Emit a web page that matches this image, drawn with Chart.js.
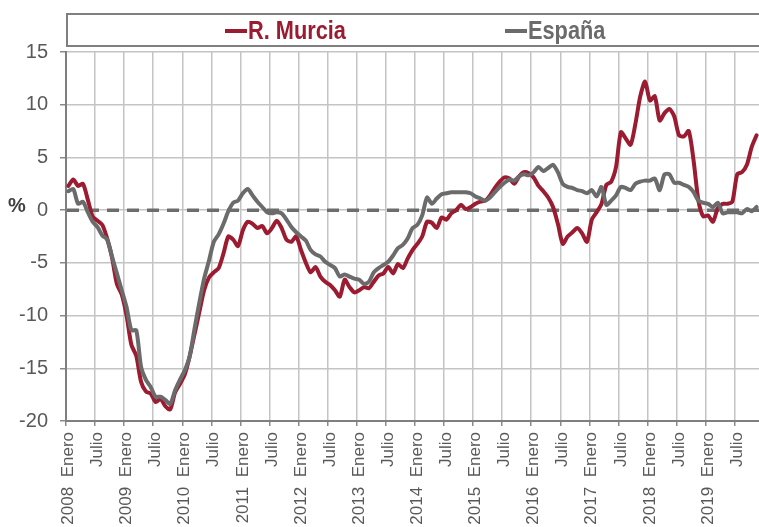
<!DOCTYPE html>
<html>
<head>
<meta charset="utf-8">
<script src="https://cdn.jsdelivr.net/npm/chart.js@4/dist/chart.umd.min.js"></script>
<style>
  html, body { margin: 0; padding: 0; background: #fff; overflow: hidden; }
  #wrap { position: relative; width: 759px; height: 527px; }
  #chart { position: absolute; left: 0; top: 0; }
  #legend {
    position: absolute; left: 66px; top: 13px; width: 720px; height: 30px;
    border: 2px solid #7f7f7f; box-sizing: content-box;
  }
  .item {
    position: absolute; top: 0; height: 30px; line-height: 30px;
    font-family: "Liberation Sans Narrow", "Arial Narrow", "Liberation Sans", Arial, sans-serif;
    font-weight: bold; font-size: 25px; white-space: nowrap;
  }
  .item span.mark { display: inline-block; width: 22px; height: 4px; vertical-align: middle; margin-right: 1px; position: relative; top: -1px; }
  .item span.txt { display: inline-block; transform: scaleX(0.87); transform-origin: left center; }
  #pct {
    position: absolute; left: 8px; top: 194px;
    font-family: "Liberation Sans", Arial, sans-serif; font-weight: bold; font-size: 20px; color: #404040;
  }
</style>
</head>
<body>
<div id="wrap">
  <canvas id="chart" width="759" height="527"></canvas>
  <div id="legend">
    <div class="item" style="left:157px;color:#9b1b30"><span class="mark" style="background:#9b1b30"></span><span class="txt">R. Murcia</span></div>
    <div class="item" style="left:437px;color:#6b6b6b"><span class="mark" style="background:#6b6b6b"></span><span class="txt">España</span></div>
  </div>
  <div id="pct">%</div>
</div>
<script>
/* categories */
const years = [2008, 2009, 2010, 2011, 2012, 2013, 2014, 2015, 2016, 2017, 2018, 2019];
const monthNames = ['Enero', 'Febrero', 'Marzo', 'Abril', 'Mayo', 'Junio',
                    'Julio', 'Agosto', 'Septiembre', 'Octubre', 'Noviembre', 'Diciembre'];
const monthsIn2019 = 11;

/* series, % interanual */
const murcia = [
   2.3,  2.9,  2.3,  2.5,  1.0, -0.6, -1.0, -1.4, -2.7, -4.5, -7.0, -8.0,
 -10.0,-12.8,-13.8,-16.3,-17.2,-17.4,-18.2,-17.9,-18.6,-18.9,-17.3,-16.5,
 -15.6,-13.9,-11.8, -9.7, -7.6, -6.4, -5.9, -5.5, -4.1, -2.5, -2.8, -3.4,
  -1.9, -1.1, -1.3, -1.7, -1.5, -2.2, -1.7, -1.0, -1.7, -2.8, -3.0, -2.5,
  -3.8, -5.0, -5.9, -5.4, -6.3, -6.8, -7.1, -7.6, -8.2, -6.6, -7.3, -7.8,
  -7.6, -7.3, -7.4, -6.8, -6.2, -6.0, -5.4, -6.0, -5.1, -5.5, -4.6, -3.8,
  -3.2, -2.5, -1.1, -1.2, -1.7, -0.7, -0.9, -0.3,  0.0,  0.5,  0.1,  0.3,
   0.6,  0.8,  0.9,  1.4,  2.1,  2.7,  3.1,  3.0,  2.5,  3.2,  3.6,  3.5,
   3.1,  2.3,  1.8,  1.2,  0.3, -1.3, -3.2, -2.5, -2.1, -1.7, -2.2, -3.0,
  -0.9, -0.2,  0.6,  2.4,  2.7,  4.1,  7.4,  6.8,  6.2,  8.2, 10.8, 12.2,
  10.4, 10.8,  8.5,  9.2,  9.6,  8.9,  7.1,  7.0,  7.5,  4.7,  0.9, -0.6,
  -0.5, -1.1,  0.2,  0.6,  0.6,  0.8,  3.4,  3.6,  4.3,  6.0,  7.1
];
const espana = [
   1.8,  2.0,  0.6,  0.8, -0.2, -1.1, -1.6, -2.4, -2.8, -4.4, -6.0, -7.6,
  -9.2,-11.4,-11.4,-14.9,-16.1,-16.8,-17.7,-17.7,-18.0,-18.4,-17.1,-16.1,
 -15.2,-13.9,-11.3, -8.8, -6.5, -4.8, -3.0, -2.3, -1.3, -0.1,  0.7,  0.9,
   1.6,  2.0,  1.4,  0.8,  0.3, -0.2, -0.3, -0.2, -0.3, -0.9, -1.6, -2.1,
  -2.5, -2.9, -3.8, -4.2, -4.4, -4.9, -5.2, -5.5, -6.3, -6.1, -6.3, -6.5,
  -6.6, -7.0, -6.8, -5.9, -5.5, -5.2, -4.9, -4.3, -3.6, -3.3, -2.7, -1.7,
  -1.4, -0.5,  1.2,  0.6,  1.1,  1.5,  1.6,  1.7,  1.7,  1.7,  1.7,  1.6,
   1.3,  1.1,  0.9,  1.2,  1.7,  2.2,  2.6,  2.9,  2.8,  3.2,  3.4,  3.3,
   3.6,  4.1,  3.7,  4.0,  4.3,  3.6,  2.5,  2.2,  2.1,  1.9,  1.8,  1.6,
   1.9,  1.3,  2.2,  0.5,  0.9,  1.4,  2.2,  2.1,  1.9,  2.5,  2.7,  2.8,
   2.8,  3.0,  1.9,  3.4,  3.4,  2.6,  2.6,  2.4,  2.2,  1.7,  0.9,  0.7,
   0.6,  0.3,  0.7, -0.3, -0.2, -0.2, -0.2, -0.3,  0.1, -0.1,  0.3
];

/* y axis ticks */
const yMin = -20, yMax = 15, yStep = 5;

const labels = [];
years.forEach((yr, k) => {
    const n = (k === years.length - 1) ? monthsIn2019 : 12;
    for (let m = 0; m < n; m++) labels.push(monthNames[m] + ' ' + yr);
});

const RED = '#9b1b30';
const GREY = '#6b6b6b';
const TXT = '#595959';
const FONT = "'Liberation Sans', Arial, sans-serif";

/*dashed zero line, under the series*/
const zeroLine = {
    id: 'zeroLine',
    beforeDatasetsDraw(chart) {
        const {ctx, chartArea, scales} = chart;
        const y = scales.y.getPixelForValue(0);
        ctx.save();
        ctx.strokeStyle = '#6d6d6d';
        ctx.lineWidth = 3.5;
        ctx.setLineDash([12, 8]);
        ctx.beginPath();
        ctx.moveTo(chartArea.left + 1, y);
        ctx.lineTo(chartArea.right, y);
        ctx.stroke();
        ctx.restore();
    }
};

new Chart(document.getElementById('chart'), {
    type: 'line',
    data: {
        labels: labels,
        datasets: [{
            label: 'R. Murcia',
            data: murcia,
            borderColor: RED,
            borderWidth: 4,
            order: 2
        },
        {
            label: 'España',
            data: espana,
            borderColor: GREY,
            borderWidth: 4,
            order: 1
        }]
    },
    options: {
        responsive: false,
        animation: false,
        layout: { padding: { top: 52, left: 0, right: 0, bottom: 0 } },
        elements: {
            point: { radius: 0 },
            line: { tension: 0.25, borderJoinStyle: 'round', borderCapStyle: 'round' }
        },
        plugins: {
            legend: { display: false },
            tooltip: { enabled: false }
        },
        scales: {
            x: {
                type: 'category',
                offset: true,
                grid: {
                    offset: true,
                    color: (c) => (c.tick && c.tick.value % 6 === 0) ? '#c4c4c4' : 'rgba(0,0,0,0)',
                    tickColor: (c) => (c.tick && c.tick.value % 6 === 0) ? '#8a8a8a' : 'rgba(0,0,0,0)',
                    lineWidth: 1.5,
                    tickLength: 5
                },
                border: { color: '#7f7f7f', width: 2 },
                ticks: {
                    autoSkip: false,
                    maxRotation: 90,
                    minRotation: 90,
                    padding: 6,
                    color: TXT,
                    font: { family: FONT, size: 17 },
                    callback: function (value, index) {
                        const m = index % 12;
                        if (m === 0) return years[index / 12] + '  ' + monthNames[0];
                        if (m === 6) return monthNames[6];
                        return '';
                    }
                },
                afterFit(s) {
                    s.height = 106;
                    s.paddingLeft = 0;
                    s.paddingRight = 0;
                }
            },
            y: {
                min: yMin,
                max: yMax,
                ticks: {
                    stepSize: yStep,
                    padding: 12,
                    color: TXT,
                    font: { family: FONT, size: 20 }
                },
                grid: {
                    color: '#c4c4c4',
                    lineWidth: 1.5,
                    tickColor: '#8a8a8a',
                    tickLength: 6
                },
                border: { color: '#7f7f7f', width: 2 },
                afterFit(s) {
                    s.width = 66;
                }
            }
        }
    },
    plugins: [zeroLine]
});
</script>
</body>
</html>
